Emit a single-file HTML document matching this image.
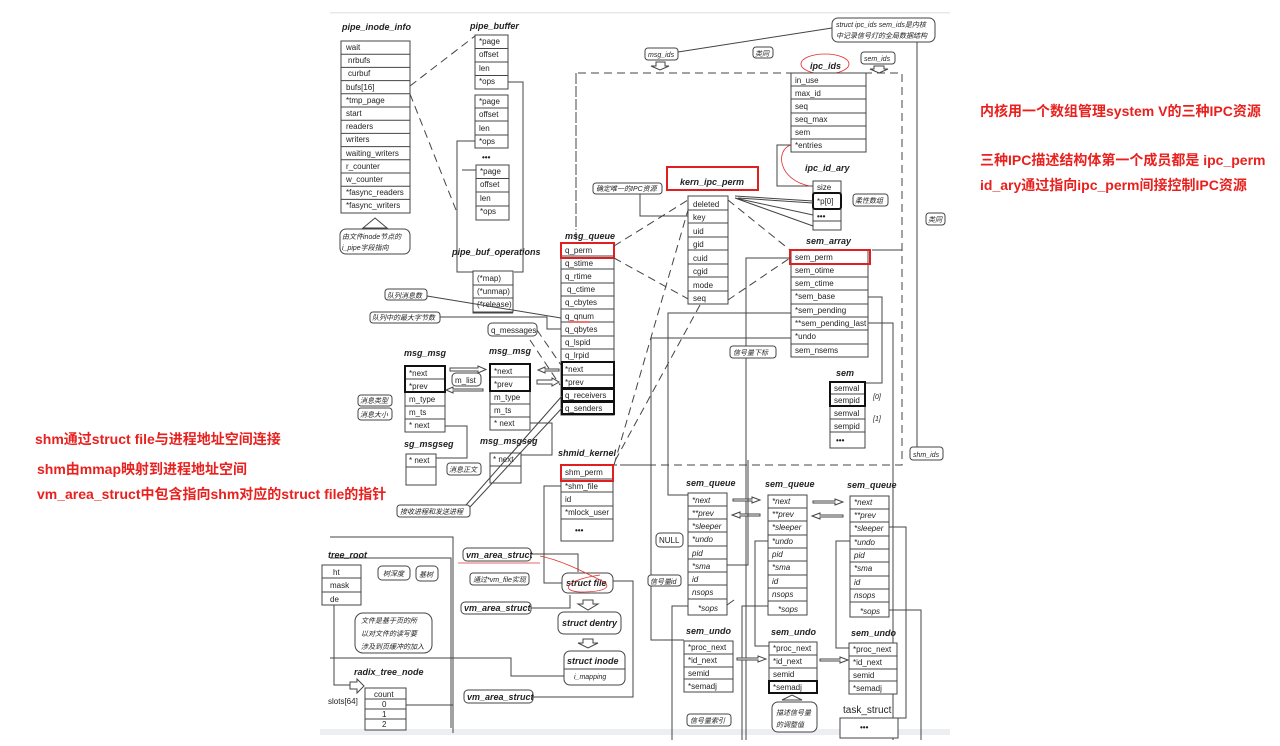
<!DOCTYPE html>
<html><head><meta charset="utf-8"><style>
html,body{margin:0;padding:0;background:#fff;}
body{width:1280px;height:746px;overflow:hidden;position:relative;font-family:"Liberation Sans","Noto Sans CJK SC",sans-serif;}
.r{position:absolute;color:#e8201e;font-weight:bold;font-size:14px;white-space:nowrap;font-family:"Liberation Sans","Noto Sans CJK SC",sans-serif;}
svg{position:absolute;left:0;top:0;}
svg text{font-family:"Liberation Sans","Noto Sans CJK SC",sans-serif;font-size:8px;fill:#222;}
.t{font-weight:bold;font-style:italic;font-size:9px;}
.c{font-size:7px;font-style:italic;}
.b rect{fill:#fff;stroke:#444;stroke-width:1;}
.l{stroke:#444;fill:none;stroke-width:1;}
.d{stroke:#444;fill:none;stroke-width:1;stroke-dasharray:8,5;}
.p{fill:#fff;stroke:#444;stroke-width:1;}
</style></head><body>
<svg width="1280" height="746" viewBox="0 0 1280 746">
<rect x="330" y="12" width="620" height="1.5" fill="#e6e9ee"/>
<rect x="320" y="729" width="630" height="6" fill="#eceef1"/>
<!-- big dashed frame -->
<path class="d" d="M576 240 V73 H902 V465 H560"/>
<!-- pipe_inode_info -->
<text class="t" x="342" y="30">pipe_inode_info</text>
<g class="b"><rect x="341" y="41" width="69" height="172"/></g>
<path class="l" d="M341 54.2H410M341 67.4H410M341 80.6H410M341 93.8H410M341 107H410M341 120.2H410M341 133.4H410M341 146.6H410M341 159.8H410M341 173H410M341 186.2H410M341 199.4H410"/>
<text x="346" y="50">wait</text><text x="348" y="63">nrbufs</text><text x="348" y="76">curbuf</text><text x="346" y="90">bufs[16]</text><text x="346" y="103">*tmp_page</text><text x="346" y="116">start</text><text x="346" y="129">readers</text><text x="346" y="142">writers</text><text x="346" y="156">waiting_writers</text><text x="346" y="169">r_counter</text><text x="346" y="182">w_counter</text><text x="346" y="195">*fasync_readers</text><text x="346" y="208">*fasync_writers</text>
<path class="p" d="M363 228 L375 218 L387 228 Z"/>
<rect class="p" x="340" y="229" width="70" height="25" rx="6"/>
<text class="c" x="342" y="239">由文件inode节点的</text><text class="c" x="342" y="250">i_pipe字段指向</text>
<!-- pipe_buffer -->
<text class="t" x="470" y="29">pipe_buffer</text>
<g class="b"><rect x="475" y="35" width="33" height="54"/><rect x="475" y="95" width="33" height="53"/><rect x="476" y="165" width="33" height="55"/></g>
<path class="l" d="M475 48.5H508M475 62H508M475 75.5H508M475 108H508M475 121H508M475 135H508M476 178.5H509M476 192H509M476 206H509"/>
<text x="479" y="44">*page</text><text x="479" y="57">offset</text><text x="479" y="71">len</text><text x="479" y="84">*ops</text>
<text x="479" y="104">*page</text><text x="479" y="117">offset</text><text x="479" y="131">len</text><text x="479" y="144">*ops</text>
<text x="482" y="160" style="font-weight:bold">•••</text>
<text x="480" y="174">*page</text><text x="480" y="187">offset</text><text x="480" y="201">len</text><text x="480" y="214">*ops</text>
<path class="d" d="M410 86 L475 36 M410 94 L456 210"/>
<path class="l" d="M508 82H523V272H514M475 141H457V272H473M476 170H462"/>
<text class="t" x="452" y="255">pipe_buf_operations</text>
<g class="b"><rect x="473" y="271" width="40" height="41"/></g>
<path class="l" d="M473 285H513M473 298H513M473 312V313H513"/>
<text x="477" y="281">(*map)</text><text x="477" y="294">(*unmap)</text><text x="477" y="307">(*release)</text>
<!-- labels -->
<rect class="p" x="385" y="289" width="42" height="11" rx="3"/><text class="c" x="387" y="298">队列消息数</text>
<rect class="p" x="370" y="312" width="70" height="11" rx="3"/><text class="c" x="372" y="320">队列中的最大字节数</text>
<path class="l" d="M427 296 L561 318 M440 317 H547 V329 H561"/>
<rect class="p" x="488" y="323" width="49" height="13" rx="4"/><text x="491" y="333">q_messages</text>
<path class="d" d="M537 330 L561 365 M530 340 L560 385"/>
<!-- msg_queue -->
<text class="t" x="565" y="239">msg_queue</text>
<path class="d" d="M576 73 V230"/>
<g class="b"><rect x="561" y="243" width="53" height="172"/></g>
<path class="l" d="M561 256H614M561 269H614M561 283H614M561 296H614M561 309H614M561 322H614M561 336H614M561 349H614M561 362H614M561 375H614M561 388H614M561 402H614"/>
<text x="565" y="253">q_perm</text><text x="565" y="266">q_stime</text><text x="565" y="279">q_rtime</text><text x="567" y="292">q_ctime</text><text x="565" y="305">q_cbytes</text><text x="565" y="319">q_qnum</text><text x="565" y="332">q_qbytes</text><text x="565" y="345">q_lspid</text><text x="565" y="358">q_lrpid</text><text x="565" y="372">*next</text><text x="565" y="385">*prev</text><text x="565" y="398">q_receivers</text><text x="565" y="411">q_senders</text>
<rect x="561" y="243" width="53" height="15" fill="none" stroke="#e02020" stroke-width="2"/>
<path d="M568 322H590" stroke="#e02020" stroke-width="1.2"/>
<rect x="562" y="362" width="52" height="26" fill="none" stroke="#111" stroke-width="2"/>
<rect x="562" y="389" width="52" height="12" fill="none" stroke="#111" stroke-width="2"/>
<rect x="562" y="402" width="52" height="12" fill="none" stroke="#111" stroke-width="2"/>
<path class="d" d="M614 246 L688 200 M614 258 L690 300 M614 465 L688 210"/>
<!-- kern_ipc_perm -->
<rect x="667" y="167" width="91" height="23" fill="none" stroke="#e02020" stroke-width="2"/>
<text class="t" x="680" y="185">kern_ipc_perm</text>
<g class="b"><rect x="688" y="196" width="40" height="108"/></g>
<path class="l" d="M688 210H728M688 223H728M688 237H728M688 250H728M688 264H728M688 277H728M688 291H728"/>
<text x="693" y="207">deleted</text><text x="693" y="220">key</text><text x="693" y="234">uid</text><text x="693" y="247">gid</text><text x="693" y="261">cuid</text><text x="693" y="274">cgid</text><text x="693" y="288">mode</text><text x="693" y="301">seq</text>
<rect class="p" x="593" y="183" width="69" height="11" rx="3"/><text class="c" x="596" y="191">确定唯一的IPC资源</text>
<path class="l" d="M640 194 V216 H688"/>
<path class="d" d="M728 200 L790 250 M728 300 L790 258 M700 305 L610 470"/>
<!-- ipc_ids -->
<text class="t" x="810" y="69">ipc_ids</text>
<ellipse cx="825" cy="64" rx="24" ry="10" fill="none" stroke="#e03030" stroke-width="0.8"/>
<g class="b"><rect x="791" y="73" width="75" height="79"/></g>
<path class="l" d="M791 86H866M791 99H866M791 113H866M791 126H866M791 139H866"/>
<text x="795" y="83">in_use</text><text x="795" y="96">max_id</text><text x="795" y="109">seq</text><text x="795" y="122">seq_max</text><text x="795" y="135">sem</text><text x="795" y="148">*entries</text>
<path class="l" d="M791 145 H777 V186 H813"/>
<path d="M791 145 C775 150 778 180 810 186" fill="none" stroke="#e03030" stroke-width="0.8"/>
<text class="t" x="805" y="171">ipc_id_ary</text>
<g class="b"><rect x="813" y="181" width="28" height="49"/></g>
<path class="l" d="M813 193H841M813 209H841M813 221H841"/>
<text x="817" y="190">size</text><text x="817" y="204">*p[0]</text><text x="817" y="219" style="font-weight:bold">•••</text>
<rect x="813" y="193" width="28" height="16" rx="2" fill="none" stroke="#111" stroke-width="2"/>
<path class="l" d="M813 201 L735 196 M813 203 L738 198 M813 215 L735 198 M813 226 L735 198"/>
<rect class="p" x="853" y="194" width="35" height="12" rx="3"/><text class="c" x="855" y="203">柔性数组</text>
<!-- sem_array -->
<text class="t" x="806" y="244">sem_array</text>
<g class="b"><rect x="791" y="250" width="77" height="107"/></g>
<path class="l" d="M791 264H868M791 277H868M791 290H868M791 304H868M791 317H868M791 330H868M791 344H868"/>
<rect x="790" y="250" width="80" height="14" fill="none" stroke="#e02020" stroke-width="2"/>
<text x="795" y="260">sem_perm</text><text x="795" y="273">sem_otime</text><text x="795" y="286">sem_ctime</text><text x="795" y="299">*sem_base</text><text x="795" y="313">*sem_pending</text><text x="795" y="326">**sem_pending_last</text><text x="795" y="339">*undo</text><text x="795" y="353">sem_nsems</text>
<path class="l" d="M868 297 H882 V383 H866 M868 323 H893 V740 M791 313 H668 V495 H688 M791 338 H651 V640 H684 M791 258 H746 V740 M902 250 H872"/>
<rect class="p" x="730" y="346" width="46" height="12" rx="3"/><text class="c" x="733" y="355">信号量下标</text>
<!-- sem -->
<text class="t" x="836" y="376">sem</text>
<g class="b"><rect x="830" y="382" width="35" height="66"/></g>
<path class="l" d="M830 394H865M830 406H865M830 419H865M830 432H865"/>
<rect x="830" y="382" width="35" height="24" fill="none" stroke="#111" stroke-width="2"/>
<text x="834" y="391">semval</text><text x="834" y="403">sempid</text><text x="834" y="416">semval</text><text x="834" y="429">sempid</text><text x="836" y="443" style="font-weight:bold">•••</text>
<text class="c" x="873" y="399">[0]</text><text class="c" x="873" y="421">[1]</text>
<!-- top labels -->
<rect class="p" x="832" y="18" width="103" height="24" rx="6"/>
<text class="c" x="836" y="27">struct ipc_ids sem_ids是内核</text><text class="c" x="836" y="38">中记录信号灯的全局数据结构</text>
<path class="l" d="M832 28 L678 52 M917 42 V447"/>
<rect class="p" x="645" y="48" width="33" height="12" rx="3"/><text class="c" x="648" y="57">msg_ids</text>
<rect class="p" x="753" y="47" width="20" height="11" rx="3"/><text class="c" x="755" y="56">类同</text>
<rect class="p" x="861" y="52" width="34" height="12" rx="3"/><text class="c" x="864" y="61">sem_ids</text>
<rect class="p" x="926" y="213" width="19" height="12" rx="3"/><text class="c" x="928" y="222">类同</text>
<rect class="p" x="910" y="447" width="33" height="13" rx="3"/><text class="c" x="913" y="457">shm_ids</text>
<path class="p" d="M656 62 H665 V66 H669 L660 70 L651 66 H656Z"/>
<path class="p" d="M874 66 H884 V69 H888 L879 73 L870 69 H874Z"/>
<!-- msg_msg -->
<text class="t" x="404" y="356">msg_msg</text>
<g class="b"><rect x="405" y="366" width="40" height="66"/></g>
<path class="l" d="M405 379H445M405 392H445M405 406H445M405 419H445"/>
<rect x="405" y="366" width="40" height="26" fill="none" stroke="#111" stroke-width="2"/>
<text x="409" y="376">*next</text><text x="409" y="389">*prev</text><text x="409" y="402">m_type</text><text x="409" y="415">m_ts</text><text x="409" y="428">* next</text>
<text class="t" x="489" y="354">msg_msg</text>
<g class="b"><rect x="490" y="364" width="40" height="66"/></g>
<path class="l" d="M490 377H530M490 391H530M490 404H530M490 417H530"/>
<rect x="490" y="364" width="40" height="27" fill="none" stroke="#111" stroke-width="2"/>
<text x="494" y="374">*next</text><text x="494" y="387">*prev</text><text x="494" y="400">m_type</text><text x="494" y="413">m_ts</text><text x="494" y="426">* next</text>
<rect class="p" x="452" y="373" width="29" height="13" rx="4"/><text x="455" y="383">m_list</text>
<path class="p" d="M450 368 H478 V366 L486 369.5 L478 373 V371 H450Z"/>
<path class="p" d="M453 389 H483 V391 H453 V393 L446 390 L453 387Z"/>
<path class="p" d="M545 369 H559 V371 H545 V373 L538 370 L545 367Z"/>
<path class="p" d="M537 380 H552 V378 L559 382 L552 386 V384 H537Z"/>
<rect class="p" x="358" y="395" width="34" height="11" rx="3"/><text class="c" x="360" y="403">消息类型</text>
<rect class="p" x="358" y="408" width="34" height="12" rx="3"/><text class="c" x="360" y="417">消息大小</text>
<path class="l" d="M445 426 H467 V458 H436 M530 423 H552 V455 H521"/>
<text class="t" x="404" y="447">sg_msgseg</text>
<g class="b"><rect x="406" y="454" width="30" height="31"/></g>
<path class="l" d="M406 467H436"/><text x="409" y="463">* next</text>
<text class="t" x="480" y="444">msg_msgseg</text>
<g class="b"><rect x="490" y="453" width="31" height="30"/></g>
<path class="l" d="M490 466H521"/><text x="493" y="462">* next</text>
<rect class="p" x="447" y="463" width="34" height="12" rx="3"/><text class="c" x="449" y="472">消息正文</text>
<rect class="p" x="397" y="505" width="73" height="12" rx="3"/><text class="c" x="400" y="514">接收进程和发送进程</text>
<path class="l" d="M466 505 L562 396 M470 507 L562 408"/>
<!-- shmid_kernel -->
<text class="t" x="558" y="456">shmid_kernel</text>
<g class="b"><rect x="561" y="465" width="52" height="76"/></g>
<path class="l" d="M561 479H613M561 492H613M561 506H613M561 519H613"/>
<rect x="561" y="465" width="52" height="16" fill="none" stroke="#e02020" stroke-width="2"/>
<text x="565" y="475">shm_perm</text><text x="565" y="489">*shm_file</text><text x="565" y="502">id</text><text x="565" y="515">*mlock_user</text><text x="575" y="533" style="font-weight:bold">•••</text>
<path class="l" d="M561 486 H544 V583 H562 M620 465 H650"/>
<!-- vm area -->
<rect class="p" x="463" y="548" width="68" height="13" rx="4"/><text class="t" x="466" y="558">vm_area_struct</text>
<path d="M458 563 H540" stroke="#e03030" stroke-width="0.8"/>
<rect class="p" x="470" y="573" width="59" height="12" rx="3"/><text class="c" x="473" y="582">通过*vm_file实现</text>
<path class="l" d="M531 554 H578 V572"/>
<rect class="p" x="562" y="573" width="51" height="20" rx="6"/><text class="t" x="566" y="586">struct file</text>
<path d="M540 556 C560 560 580 570 600 580 C612 585 610 592 580 592 C560 591 565 580 600 575" fill="none" stroke="#e03030" stroke-width="0.8"/>
<rect class="p" x="461" y="602" width="70" height="12" rx="4"/><text class="t" x="464" y="611">vm_area_struct</text>
<path class="l" d="M531 608 H570 V595 M613 581 H633 V697 H533"/>
<path class="p" d="M583 600 H593 V604 H598 L588 610 L578 604 H583Z"/>
<rect class="p" x="558" y="612" width="63" height="22" rx="6"/><text class="t" x="562" y="626">struct dentry</text>
<path class="p" d="M583 639 H593 V643 H598 L588 648 L578 643 H583Z"/>
<rect class="p" x="564" y="651" width="61" height="34" rx="6"/><text class="t" x="567" y="664">struct inode</text>
<path class="l" d="M564 669 H625"/><text class="c" x="574" y="679">i_mapping</text>
<rect class="p" x="464" y="690" width="69" height="13" rx="4"/><text class="t" x="467" y="700">vm_area_struct</text>
<!-- radix -->
<path class="l" d="M330 537 H453 V733 M330 558 H451 V728 M330 658 H511 V676 H564"/>
<text class="t" x="328" y="558">tree_root</text>
<g class="b"><rect x="322" y="565" width="39" height="40"/></g>
<path class="l" d="M322 578H361M322 592H361"/>
<text x="333" y="575">ht</text><text x="330" y="588">mask</text><text x="330" y="602">de</text>
<path class="l" d="M334 605 V685 H350"/>
<path class="p" d="M350 682 H357 V679 L364 686 L357 693 V689 H350Z"/>
<rect class="p" x="378" y="566" width="32" height="14" rx="4"/><text class="c" x="383" y="576">树深度</text>
<rect class="p" x="416" y="566" width="22" height="15" rx="4"/><text class="c" x="419" y="577">基树</text>
<rect class="p" x="355" y="613" width="77" height="40" rx="8"/>
<text class="c" x="361" y="623">文件是基于页的所</text><text class="c" x="361" y="636">以对文件的读写要</text><text class="c" x="361" y="649">涉及到页缓冲的加入</text>
<text class="t" x="354" y="675">radix_tree_node</text>
<g class="b"><rect x="365" y="688" width="41" height="42"/></g>
<path class="l" d="M365 699H406M365 709H406M365 719H406M406 705 H453"/>
<text x="374" y="697">count</text><text x="382" y="707">0</text><text x="382" y="717">1</text><text x="382" y="727">2</text>
<text x="328" y="704">slots[64]</text>
<!-- sem_queue -->
<text class="t" x="686" y="486">sem_queue</text><text class="t" x="765" y="487">sem_queue</text><text class="t" x="847" y="488">sem_queue</text>
<g class="b"><rect x="688" y="493" width="39" height="122"/><rect x="768" y="495" width="39" height="120"/><rect x="850" y="496" width="39" height="121"/></g>
<path class="l" d="M688 506H727M688 519H727M688 532H727M688 546H727M688 559H727M688 572H727M688 585H727M688 599H727M768 508H807M768 521H807M768 535H807M768 548H807M768 561H807M768 575H807M768 588H807M768 601H807M850 509H889M850 522H889M850 536H889M850 549H889M850 562H889M850 576H889M850 589H889M850 602H889"/>
<g style="font-style:italic">
<text x="692" y="503">*next</text><text x="692" y="516">**prev</text><text x="692" y="529">*sleeper</text><text x="692" y="542">*undo</text><text x="692" y="556">pid</text><text x="692" y="569">*sma</text><text x="692" y="582">id</text><text x="692" y="595">nsops</text><text x="698" y="611">*sops</text>
<text x="772" y="504">*next</text><text x="772" y="517">**prev</text><text x="772" y="530">*sleeper</text><text x="772" y="544">*undo</text><text x="772" y="557">pid</text><text x="772" y="570">*sma</text><text x="772" y="584">id</text><text x="772" y="597">nsops</text><text x="778" y="612">*sops</text>
<text x="854" y="505">*next</text><text x="854" y="518">**prev</text><text x="854" y="531">*sleeper</text><text x="854" y="545">*undo</text><text x="854" y="558">pid</text><text x="854" y="571">*sma</text><text x="854" y="585">id</text><text x="854" y="598">nsops</text><text x="860" y="614">*sops</text>
</g>
<path class="p" d="M733 499 H752 V497 L760 500 L752 503 V501 H733Z"/><path class="p" d="M740 514 H760 V516 H740 V518 L732 515 L740 512Z"/>
<path class="p" d="M813 501 H835 V499 L843 502 L835 505 V503 H813Z"/><path class="p" d="M820 515 H843 V517 H820 V519 L812 516 L820 513Z"/>
<path class="l" d="M727 565 H748 V460 M768 541 H755 V646 H769 M850 541 H836 V648 H849 M889 527 H906 V718 H898 M889 610 H921 V740 M727 605 L734 600 M688 606 H672 V740 M768 606 H742 V740"/>
<rect class="p" x="656" y="533" width="27" height="14" rx="4"/><text x="659" y="543">NULL</text>
<rect class="p" x="648" y="575" width="33" height="11" rx="3"/><text class="c" x="650" y="584">信号量id</text>
<!-- sem_undo -->
<text class="t" x="686" y="634">sem_undo</text><text class="t" x="771" y="635">sem_undo</text><text class="t" x="851" y="636">sem_undo</text>
<g class="b"><rect x="684" y="641" width="49" height="51"/><rect x="769" y="642" width="48" height="39"/><rect x="849" y="643" width="48" height="51"/></g>
<path class="l" d="M684 654H733M684 667H733M684 679H733M769 655H817M769 668H817M849 656H897M849 669H897M849 681H897"/>
<rect x="769" y="681" width="48" height="12" fill="none" stroke="#111" stroke-width="2"/>
<text x="688" y="650">*proc_next</text><text x="688" y="663">*id_next</text><text x="688" y="676">semid</text><text x="688" y="689">*semadj</text>
<text x="773" y="651">*proc_next</text><text x="773" y="664">*id_next</text><text x="773" y="677">semid</text><text x="773" y="690">*semadj</text>
<text x="853" y="652">*proc_next</text><text x="853" y="665">*id_next</text><text x="853" y="678">semid</text><text x="853" y="691">*semadj</text>
<path class="p" d="M737 658 H758 V656 L766 659 L758 662 V660 H737Z"/><path class="p" d="M820 659 H840 V657 L848 660 L840 663 V661 H820Z"/>
<rect class="p" x="687" y="714" width="44" height="12" rx="3"/><text class="c" x="690" y="723">信号量索引</text>
<path class="p" d="M782 700 L792 695 L802 700Z"/>
<rect class="p" x="772" y="702" width="45" height="30" rx="6"/><text class="c" x="776" y="715">描述信号量</text><text class="c" x="776" y="727">的调整值</text>
<text x="843" y="713" style="font-size:10px">task_struct</text>
<rect class="p" x="840" y="718" width="58" height="20"/><text x="860" y="730" style="font-weight:bold">•••</text>
</svg>
<div class="r" style="left:980px;top:101px">内核用一个数组管理system V的三种IPC资源</div>
<div class="r" style="left:980px;top:150px">三种IPC描述结构体第一个成员都是 ipc_perm</div>
<div class="r" style="left:980px;top:175px">id_ary通过指向ipc_perm间接控制IPC资源</div>
<div class="r" style="left:35px;top:429px">shm通过struct file与进程地址空间连接</div>
<div class="r" style="left:37px;top:459px">shm由mmap映射到进程地址空间</div>
<div class="r" style="left:37px;top:484px">vm_area_struct中包含指向shm对应的struct file的指针</div>
</body></html>
